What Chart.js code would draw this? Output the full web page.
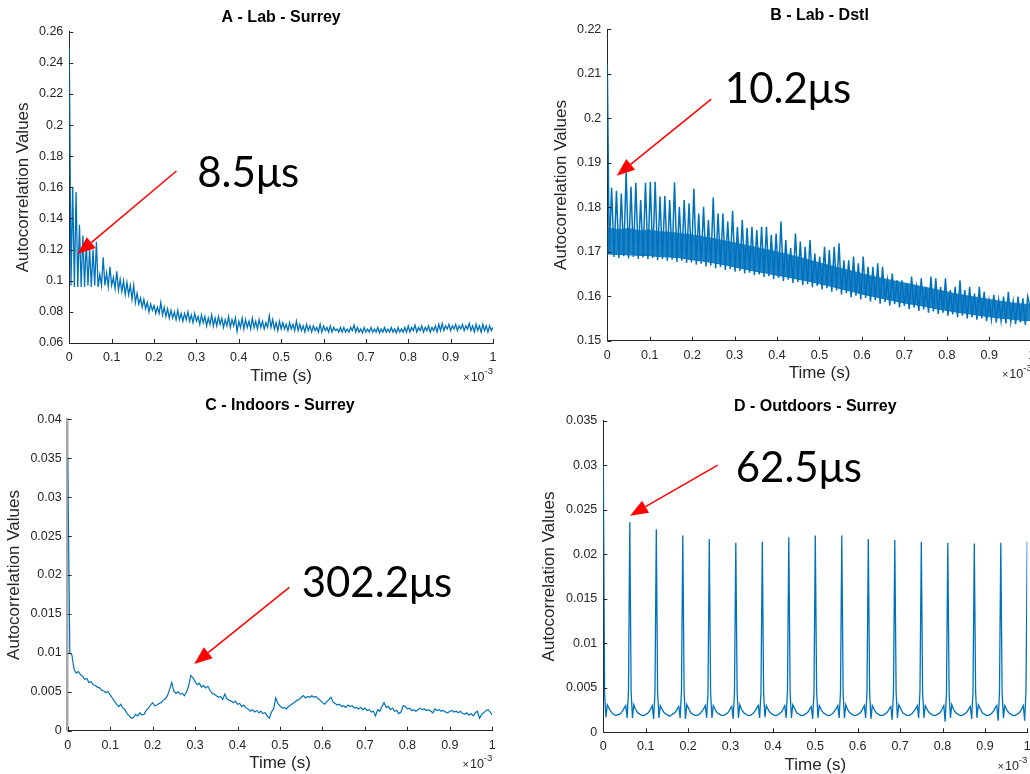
<!DOCTYPE html>
<html>
<head>
<meta charset="utf-8">
<script src="https://cdn.jsdelivr.net/npm/chart.js@4.4.1/dist/chart.umd.min.js"></script>
<style>
  html, body { margin: 0; padding: 0; background: #fff; width: 1030px; height: 774px; overflow: hidden; }
  canvas { position: absolute; }
</style>
</head>
<body>
<canvas id="chartA" width="515" height="390" style="left:0;top:0"></canvas>
<canvas id="chartB" width="560" height="390" style="left:515px;top:0"></canvas>
<canvas id="chartC" width="515" height="384" style="left:0;top:390px"></canvas>
<canvas id="chartD" width="540" height="384" style="left:515px;top:390px"></canvas>
<script>
// time axis is in ms (shown as s x10^-3)
const timeTicks = [0, 0.1, 0.2, 0.3, 0.4, 0.5, 0.6, 0.7, 0.8, 0.9, 1];
const aYTicks = [0.06, 0.08, 0.1, 0.12, 0.14, 0.16, 0.18, 0.2, 0.22, 0.24, 0.26];
const bYTicks = [0.15, 0.16, 0.17, 0.18, 0.19, 0.2, 0.21, 0.22];
const cYTicks = [0, 0.005, 0.01, 0.015, 0.02, 0.025, 0.03, 0.035, 0.04];
const dYTicks = [0, 0.005, 0.01, 0.015, 0.02, 0.025, 0.03, 0.035];

// A - Lab - Surrey, one sample every 4 us
const aStep = 0.004;
const aValues = [
  0.250, 0.097, 0.160, 0.096, 0.157, 0.096, 0.136, 0.096, 0.129, 0.096,
  0.125, 0.097, 0.121, 0.096, 0.120, 0.097, 0.125, 0.096, 0.104, 0.097,
  0.115, 0.097, 0.105, 0.096, 0.109, 0.097, 0.102, 0.095, 0.106, 0.094,
  0.101, 0.093, 0.100, 0.091, 0.099, 0.091, 0.097, 0.088, 0.097, 0.086,
  0.092, 0.085, 0.089, 0.083, 0.088, 0.082, 0.086, 0.080, 0.085, 0.081,
  0.084, 0.079, 0.083, 0.079, 0.086, 0.078, 0.083, 0.077, 0.082, 0.076,
  0.081, 0.076, 0.080, 0.075, 0.081, 0.075, 0.079, 0.074, 0.079, 0.075,
  0.080, 0.074, 0.078, 0.073, 0.079, 0.074, 0.077, 0.072, 0.078, 0.073,
  0.077, 0.071, 0.076, 0.072, 0.078, 0.071, 0.076, 0.071, 0.077, 0.072,
  0.076, 0.070, 0.075, 0.071, 0.077, 0.070, 0.075, 0.071, 0.076, 0.0675,
  0.074, 0.070, 0.076, 0.069, 0.075, 0.070, 0.074, 0.069, 0.076, 0.070,
  0.074, 0.069, 0.075, 0.070, 0.074, 0.069, 0.073, 0.070, 0.0775, 0.070,
  0.075, 0.069, 0.073, 0.068, 0.074, 0.069, 0.073, 0.069, 0.072, 0.068,
  0.073, 0.069, 0.072, 0.068, 0.074, 0.068, 0.072, 0.068, 0.071, 0.067,
  0.072, 0.068, 0.071, 0.067, 0.071, 0.068, 0.070, 0.067, 0.072, 0.067,
  0.071, 0.068, 0.070, 0.067, 0.071, 0.067, 0.070, 0.068, 0.069, 0.067,
  0.070, 0.067, 0.070, 0.067, 0.069, 0.067, 0.070, 0.068, 0.0715, 0.067,
  0.070, 0.067, 0.069, 0.0665, 0.070, 0.067, 0.069, 0.067, 0.070, 0.067,
  0.069, 0.067, 0.070, 0.0665, 0.069, 0.067, 0.070, 0.067, 0.069, 0.067,
  0.070, 0.067, 0.069, 0.0665, 0.070, 0.067, 0.069, 0.067, 0.070, 0.067,
  0.071, 0.067, 0.070, 0.068, 0.0715, 0.067, 0.070, 0.068, 0.071, 0.067,
  0.070, 0.068, 0.071, 0.067, 0.070, 0.068, 0.071, 0.067, 0.072, 0.068,
  0.0725, 0.068, 0.071, 0.069, 0.072, 0.068, 0.071, 0.069, 0.072, 0.068,
  0.071, 0.069, 0.072, 0.068, 0.071, 0.069, 0.0725, 0.068, 0.071, 0.067,
  0.072, 0.068, 0.071, 0.067, 0.072, 0.068, 0.071, 0.067, 0.071, 0.068,
  0.070
];

// B - Lab - Dstl: dense band plus a spike every ~11.4 us
const bStartValue = 0.212;
const bEndValue = 0.1558;
const bSpikeStart = 0.0102;
const bSpikeStep = 0.0114;
const bSpikeTops = [
  0.1844, 0.1837, 0.1831, 0.1880, 0.1846, 0.1855, 0.1816, 0.1855, 0.1857, 0.1857,
  0.1824, 0.1825, 0.1816, 0.1856, 0.1801, 0.1816, 0.1809, 0.1842, 0.1786, 0.1801,
  0.1771, 0.1822, 0.1786, 0.1786, 0.1768, 0.1792, 0.1756, 0.1771, 0.1753, 0.1756,
  0.1749, 0.1756, 0.1756, 0.1738, 0.1741, 0.1768, 0.1726, 0.1708, 0.1741, 0.1723,
  0.1711, 0.1726, 0.1696, 0.1689, 0.1711, 0.1704, 0.1711, 0.1719, 0.1681, 0.1681,
  0.1689, 0.1674, 0.1689, 0.1666, 0.1666, 0.1674, 0.1666, 0.1636, 0.1651, 0.1636,
  0.1636, 0.1629, 0.1644, 0.1621, 0.1640, 0.1621, 0.1644, 0.1640, 0.1621, 0.1640,
  0.1614, 0.1621, 0.1636, 0.1614, 0.1621, 0.1606, 0.1621, 0.1610, 0.1591, 0.1603,
  0.1591, 0.1599, 0.1610, 0.1588, 0.1599, 0.1595, 0.1599
];
const bValleys = [
  0.1700, 0.1688, 0.1686, 0.1690, 0.1685, 0.1688, 0.1684, 0.1687, 0.1683, 0.1686,
  0.1681, 0.1684, 0.1680, 0.1682, 0.1677, 0.1680, 0.1675, 0.1676, 0.1671, 0.1673,
  0.1667, 0.1669, 0.1663, 0.1665, 0.1659, 0.1661, 0.1655, 0.1657, 0.1651, 0.1653,
  0.1647, 0.1649, 0.1643, 0.1645, 0.1639, 0.1641, 0.1634, 0.1637, 0.1630, 0.1632,
  0.1625, 0.1627, 0.1620, 0.1623, 0.1615, 0.1618, 0.1610, 0.1613, 0.1604, 0.1607,
  0.1598, 0.1601, 0.1593, 0.1596, 0.1588, 0.1591, 0.1583, 0.1587, 0.1579, 0.1582,
  0.1575, 0.1578, 0.1571, 0.1574, 0.1567, 0.1570, 0.1563, 0.1566, 0.1560, 0.1563,
  0.1556, 0.1559, 0.1553, 0.1556, 0.1550, 0.1553, 0.1547, 0.1550, 0.1544, 0.1548,
  0.1541, 0.1545, 0.1539, 0.1543, 0.1537, 0.1541, 0.1536
];
const bBandStep = 0.025;
const bBandLow = [
  0.1695, 0.1694, 0.1693, 0.1692, 0.1691, 0.1689, 0.1688, 0.1686, 0.1682, 0.1679,
  0.1675, 0.1671, 0.1666, 0.1661, 0.1656, 0.1652, 0.1647, 0.1643, 0.1638, 0.1634,
  0.1628, 0.1623, 0.1617, 0.1611, 0.1605, 0.1600, 0.1595, 0.1590, 0.1585, 0.1581,
  0.1577, 0.1572, 0.1568, 0.1564, 0.1561, 0.1557, 0.1554, 0.1551, 0.1549, 0.1546,
  0.1545
];
const bBandHigh = [
  0.1754, 0.1750, 0.1752, 0.1748, 0.1749, 0.1745, 0.1744, 0.1741, 0.1738, 0.1734,
  0.1730, 0.1725, 0.1720, 0.1715, 0.1710, 0.1705, 0.1700, 0.1694, 0.1688, 0.1682,
  0.1675, 0.1669, 0.1663, 0.1657, 0.1651, 0.1645, 0.1640, 0.1635, 0.1630, 0.1625,
  0.1620, 0.1615, 0.1610, 0.1605, 0.1601, 0.1597, 0.1593, 0.1589, 0.1586, 0.1583,
  0.1581
];

// C - Indoors - Surrey, one sample every 5 us
const cStep = 0.005;
const cValues = [
  0.0352, 0.0100, 0.0097, 0.0079, 0.0074, 0.0076, 0.0072, 0.0070, 0.0066, 0.0067,
  0.0062, 0.0063, 0.0059, 0.0058, 0.0056, 0.0055, 0.0052, 0.0051, 0.0049, 0.0050,
  0.0046, 0.0042, 0.0038, 0.0034, 0.0031, 0.0034, 0.0029, 0.0027, 0.0022, 0.0019,
  0.0016, 0.0017, 0.0021, 0.0019, 0.0023, 0.0020, 0.0021, 0.0026, 0.0029, 0.0033,
  0.0036, 0.0032, 0.0033, 0.0035, 0.0036, 0.0039, 0.0041, 0.0045, 0.0053, 0.0062,
  0.0051, 0.0048, 0.0050, 0.0047, 0.0048, 0.0045, 0.0050, 0.0058, 0.0071, 0.0068,
  0.0063, 0.0059, 0.0061, 0.0056, 0.0058, 0.0055, 0.0057, 0.0052, 0.0048, 0.0047,
  0.0045, 0.0043, 0.0044, 0.0040, 0.0047, 0.0041, 0.0039, 0.0038, 0.0036, 0.0038,
  0.0034, 0.0035, 0.0031, 0.0033, 0.0029, 0.0028, 0.0025, 0.0027, 0.0024, 0.0026,
  0.0023, 0.0025, 0.0022, 0.0023, 0.0019, 0.0016, 0.0024, 0.0028, 0.0042, 0.0035,
  0.0032, 0.0029, 0.0030, 0.0028, 0.0031, 0.0033, 0.0035, 0.0037, 0.0039, 0.0040,
  0.0043, 0.0045, 0.0042, 0.0044, 0.0043, 0.0045, 0.0043, 0.0044, 0.0041, 0.0039,
  0.0036, 0.0034, 0.0037, 0.0040, 0.0043, 0.0037, 0.0035, 0.0033, 0.0034, 0.0031,
  0.0032, 0.0030, 0.0033, 0.0031, 0.0032, 0.0029, 0.0030, 0.0028, 0.0030, 0.0027,
  0.0029, 0.0026, 0.0027, 0.0024, 0.0025, 0.0019, 0.0027, 0.0025, 0.0031, 0.0036,
  0.0030, 0.0031, 0.0027, 0.0029, 0.0025, 0.0026, 0.0022, 0.0024, 0.0032, 0.0031,
  0.0028, 0.0029, 0.0026, 0.0027, 0.0025, 0.0027, 0.0029, 0.0027, 0.0028, 0.0026,
  0.0027, 0.0025, 0.0023, 0.0028, 0.0026, 0.0027, 0.0025, 0.0026, 0.0024, 0.0023,
  0.0025, 0.0026, 0.0024, 0.0025, 0.0023, 0.0025, 0.0022, 0.0021, 0.0023, 0.0020,
  0.0022, 0.0019, 0.0023, 0.0025, 0.0016, 0.0021, 0.0023, 0.0026, 0.0027, 0.0024,
  0.0020
];

// D - Outdoors - Surrey, one sample every 3.125 us (20 per 62.5 us period)
const dStep = 0.003125;
const dValues = [
  0.0300, 0.0042, 0.0017, 0.0031, 0.0028, 0.0025, 0.0023, 0.0021, 0.0020, 0.0019, 0.0019, 0.0020, 0.0020, 0.0021, 0.0023, 0.0025, 0.0028, 0.0030, 0.0016, 0.0046,
  0.0236, 0.0046, 0.0016, 0.0031, 0.0027, 0.0024, 0.0022, 0.0021, 0.0020, 0.0019, 0.0019, 0.0019, 0.0020, 0.0021, 0.0022, 0.0024, 0.0027, 0.0030, 0.0015, 0.0045,
  0.0228, 0.0044, 0.0016, 0.0030, 0.0027, 0.0024, 0.0022, 0.0021, 0.0020, 0.0019, 0.0018, 0.0019, 0.0020, 0.0021, 0.0022, 0.0024, 0.0027, 0.0029, 0.0016, 0.0046,
  0.0221, 0.0045, 0.0015, 0.0031, 0.0028, 0.0025, 0.0022, 0.0021, 0.0020, 0.0019, 0.0019, 0.0019, 0.0020, 0.0021, 0.0023, 0.0025, 0.0027, 0.0030, 0.0016, 0.0044,
  0.0217, 0.0044, 0.0016, 0.0030, 0.0027, 0.0024, 0.0022, 0.0021, 0.0020, 0.0019, 0.0019, 0.0019, 0.0020, 0.0021, 0.0022, 0.0024, 0.0027, 0.0029, 0.0015, 0.0045,
  0.0213, 0.0045, 0.0016, 0.0031, 0.0027, 0.0024, 0.0022, 0.0021, 0.0020, 0.0019, 0.0019, 0.0019, 0.0020, 0.0021, 0.0023, 0.0025, 0.0028, 0.0030, 0.0016, 0.0045,
  0.0214, 0.0044, 0.0017, 0.0030, 0.0027, 0.0024, 0.0022, 0.0021, 0.0020, 0.0019, 0.0019, 0.0019, 0.0020, 0.0021, 0.0022, 0.0024, 0.0027, 0.0030, 0.0016, 0.0046,
  0.0219, 0.0045, 0.0016, 0.0031, 0.0028, 0.0025, 0.0022, 0.0021, 0.0020, 0.0019, 0.0019, 0.0019, 0.0020, 0.0021, 0.0022, 0.0024, 0.0027, 0.0029, 0.0015, 0.0044,
  0.0221, 0.0046, 0.0016, 0.0030, 0.0027, 0.0024, 0.0022, 0.0021, 0.0020, 0.0019, 0.0019, 0.0019, 0.0020, 0.0021, 0.0023, 0.0025, 0.0027, 0.0030, 0.0016, 0.0045,
  0.0221, 0.0044, 0.0016, 0.0031, 0.0027, 0.0024, 0.0022, 0.0021, 0.0020, 0.0019, 0.0019, 0.0019, 0.0020, 0.0021, 0.0022, 0.0024, 0.0027, 0.0030, 0.0016, 0.0045,
  0.0217, 0.0045, 0.0015, 0.0030, 0.0027, 0.0024, 0.0022, 0.0021, 0.0020, 0.0019, 0.0019, 0.0019, 0.0020, 0.0021, 0.0022, 0.0024, 0.0027, 0.0029, 0.0014, 0.0045,
  0.0216, 0.0044, 0.0016, 0.0031, 0.0028, 0.0025, 0.0022, 0.0021, 0.0020, 0.0019, 0.0019, 0.0019, 0.0020, 0.0021, 0.0023, 0.0025, 0.0027, 0.0030, 0.0016, 0.0046,
  0.0214, 0.0045, 0.0016, 0.0030, 0.0027, 0.0024, 0.0022, 0.0021, 0.0020, 0.0019, 0.0019, 0.0019, 0.0020, 0.0021, 0.0022, 0.0024, 0.0027, 0.0030, 0.0012, 0.0044,
  0.0213, 0.0044, 0.0016, 0.0031, 0.0027, 0.0024, 0.0022, 0.0021, 0.0020, 0.0019, 0.0019, 0.0019, 0.0020, 0.0021, 0.0022, 0.0024, 0.0027, 0.0029, 0.0015, 0.0045,
  0.0212, 0.0045, 0.0016, 0.0031, 0.0028, 0.0025, 0.0022, 0.0021, 0.0020, 0.0019, 0.0019, 0.0019, 0.0020, 0.0021, 0.0023, 0.0025, 0.0028, 0.0030, 0.0013, 0.0045,
  0.0213, 0.0044, 0.0016, 0.0030, 0.0027, 0.0024, 0.0022, 0.0021, 0.0020, 0.0019, 0.0019, 0.0019, 0.0020, 0.0021, 0.0022, 0.0024, 0.0027, 0.0030, 0.0013, 0.0046,
  0.0214
];

const lineBlue = '#0072BD';
const axisGrey = '#262626';
const sans = '"Liberation Sans", Arial, Helvetica, sans-serif';

const series = (vals, step) => vals.map((v, i) => ({ x: i * step, y: v }));

function spikeSeries() {
  const pts = [{ x: 0, y: bStartValue }];
  bSpikeTops.forEach((top, i) => {
    const t = bSpikeStart + i * bSpikeStep;
    pts.push({ x: t - bSpikeStep / 2, y: bValleys[i] }, { x: t, y: top });
  });
  pts.push({ x: 1, y: bEndValue });
  return pts;
}

const fmtTick = v => String(+Number(v).toFixed(5));

function drawArrow(ctx, x0, y0, x1, y1) {
  const ang = Math.atan2(y1 - y0, x1 - x0);
  const headLen = 18, headW = 7;
  const bx = x1 - headLen * Math.cos(ang), by = y1 - headLen * Math.sin(ang);
  ctx.strokeStyle = '#ff0000';
  ctx.fillStyle = '#ff0000';
  ctx.lineWidth = 1.5;
  ctx.beginPath();
  ctx.moveTo(x0, y0);
  ctx.lineTo(bx, by);
  ctx.stroke();
  ctx.beginPath();
  ctx.moveTo(x1, y1);
  ctx.lineTo(bx + headW * Math.sin(ang), by - headW * Math.cos(ang));
  ctx.lineTo(bx - headW * Math.sin(ang), by + headW * Math.cos(ang));
  ctx.closePath();
  ctx.fill();
}

function makePanel(p) {
  // titles, inner ticks, exponent and the red annotation
  const decor = {
    id: 'decor',
    afterDraw(chart) {
      const { ctx, chartArea: a, scales: { x, y } } = chart;
      ctx.save();
      ctx.strokeStyle = axisGrey;
      ctx.lineWidth = 1;
      x.ticks.forEach(t => {
        const px = Math.round(x.getPixelForValue(t.value)) + 0.5;
        ctx.beginPath(); ctx.moveTo(px, a.bottom); ctx.lineTo(px, a.bottom - 4); ctx.stroke();
      });
      y.ticks.forEach(t => {
        const py = Math.round(y.getPixelForValue(t.value)) + 0.5;
        ctx.beginPath(); ctx.moveTo(a.left, py); ctx.lineTo(a.left + 4, py); ctx.stroke();
      });

      const cx = (a.left + a.right) / 2;
      ctx.fillStyle = '#000';
      ctx.textAlign = 'center';
      ctx.textBaseline = 'middle';
      ctx.font = 'bold 16px ' + sans;
      ctx.fillText(p.title, cx, a.top - 14);

      ctx.fillStyle = axisGrey;
      ctx.font = '17px ' + sans;
      ctx.fillText('Time (s)', cx, a.bottom + 33);
      ctx.save();
      ctx.translate(a.left - p.yTitleGap, (a.top + a.bottom) / 2);
      ctx.rotate(-Math.PI / 2);
      ctx.fillText('Autocorrelation Values', 0, 0);
      ctx.restore();

      // x10^-3
      ctx.textAlign = 'left';
      ctx.textBaseline = 'alphabetic';
      ctx.font = '9.5px ' + sans;
      const wSup = ctx.measureText('-3').width;
      ctx.font = '12.5px ' + sans;
      const wTen = ctx.measureText('10').width;
      ctx.font = '11px ' + sans;
      const wTimes = ctx.measureText('\u00d7').width;
      let ex = a.right - wSup - wTen - wTimes - 1;
      ctx.fillText('\u00d7', ex, a.bottom + 37.5);
      ex += wTimes + 1;
      ctx.font = '12.5px ' + sans;
      ctx.fillText('10', ex, a.bottom + 37.5);
      ex += wTen;
      ctx.font = '9.5px ' + sans;
      ctx.fillText('-3', ex, a.bottom + 30.5);

      drawArrow(ctx,
        x.getPixelForValue(p.arrowFrom[0]), y.getPixelForValue(p.arrowFrom[1]),
        x.getPixelForValue(p.arrowTo[0]), y.getPixelForValue(p.arrowTo[1]));

      ctx.fillStyle = '#000';
      ctx.font = '42px Lato, "Open Sans", sans-serif';
      ctx.textAlign = 'left';
      ctx.textBaseline = 'alphabetic';
      ctx.fillText(p.note, x.getPixelForValue(p.noteAt[0]), y.getPixelForValue(p.noteAt[1]));
      ctx.restore();
    }
  };

  const tickFont = { family: sans, size: 12.5 };
  return new Chart(document.getElementById(p.id), {
    type: 'line',
    data: { datasets: p.datasets },
    options: {
      responsive: false,
      animation: false,
      devicePixelRatio: 1,
      layout: { padding: { left: 0, top: p.top, right: p.right, bottom: 0 } },
      elements: { point: { radius: 0 }, line: { borderWidth: 1.2, tension: 0 } },
      plugins: { legend: { display: false }, tooltip: { enabled: false } },
      scales: {
        x: {
          type: 'linear', min: 0, max: 1,
          afterFit: s => { s.height = p.xH; },
          afterBuildTicks: s => { s.ticks = timeTicks.map(v => ({ value: v })); },
          grid: { display: false, drawTicks: false },
          border: { color: axisGrey, width: 1 },
          ticks: { font: tickFont, color: axisGrey, padding: 7, maxRotation: 0, autoSkip: false, callback: fmtTick }
        },
        y: {
          type: 'linear', min: p.yTicks[0], max: p.yTicks[p.yTicks.length - 1],
          afterFit: s => { s.width = p.yW; },
          afterBuildTicks: s => { s.ticks = p.yTicks.map(v => ({ value: v })); },
          grid: { display: false, drawTicks: false },
          border: { color: p.yAxisColor || axisGrey, width: p.yAxisWidth || 1 },
          ticks: { font: tickFont, color: axisGrey, padding: 6, autoSkip: false, callback: fmtTick }
        }
      }
    },
    plugins: [decor]
  });
}

const lineSet = (data, width) => ({ data, borderColor: lineBlue, borderWidth: width || 1.2, fill: false });

makePanel({
  id: 'chartA', title: 'A - Lab - Surrey', yTicks: aYTicks,
  yW: 69.3, top: 31.7, right: 22, xH: 47, yTitleGap: 46,
  datasets: [lineSet(series(aValues, aStep), 1.3)],
  arrowFrom: [0.253, 0.1705], arrowTo: [0.0193, 0.1171],
  note: '8.5\u03bcs', noteAt: [0.302, 0.1602]
});

makePanel({
  id: 'chartB', title: 'B - Lab - Dstl', yTicks: bYTicks,
  yW: 92.3, top: 29.3, right: 43.3, xH: 49.3, yTitleGap: 45.5,
  datasets: [
    lineSet(spikeSeries(), 1.5),
    { data: series(bBandLow, bBandStep), borderColor: lineBlue, borderWidth: 1, fill: false },
    { data: series(bBandHigh, bBandStep), borderColor: 'rgba(0,114,189,0.6)', borderWidth: 1, fill: '-1', backgroundColor: 'rgba(0,114,189,0.88)' }
  ],
  arrowFrom: [0.245, 0.2043], arrowTo: [0.0221, 0.1871],
  note: '10.2\u03bcs', noteAt: [0.277, 0.2034]
});

makePanel({
  id: 'chartC', title: 'C - Indoors - Surrey', yTicks: cYTicks,
  yW: 67.7, top: 29.3, right: 22.7, xH: 43.3, yTitleGap: 53.5,
  yAxisColor: '#a9a9a9', yAxisWidth: 2.5,
  datasets: [lineSet(series(cValues, cStep))],
  arrowFrom: [0.522, 0.01842], arrowTo: [0.298, 0.00857],
  note: '302.2\u03bcs', noteAt: [0.551, 0.01721]
});

makePanel({
  id: 'chartD', title: 'D - Outdoors - Surrey', yTicks: dYTicks,
  yW: 88.3, top: 30.7, right: 27.7, xH: 41.7, yTitleGap: 53.5,
  datasets: [lineSet(series(dValues, dStep), 1.3)],
  arrowFrom: [0.2698, 0.03002], arrowTo: [0.063, 0.02433],
  note: '62.5\u03bcs', noteAt: [0.3123, 0.02815]
});
</script>
</body>
</html>
